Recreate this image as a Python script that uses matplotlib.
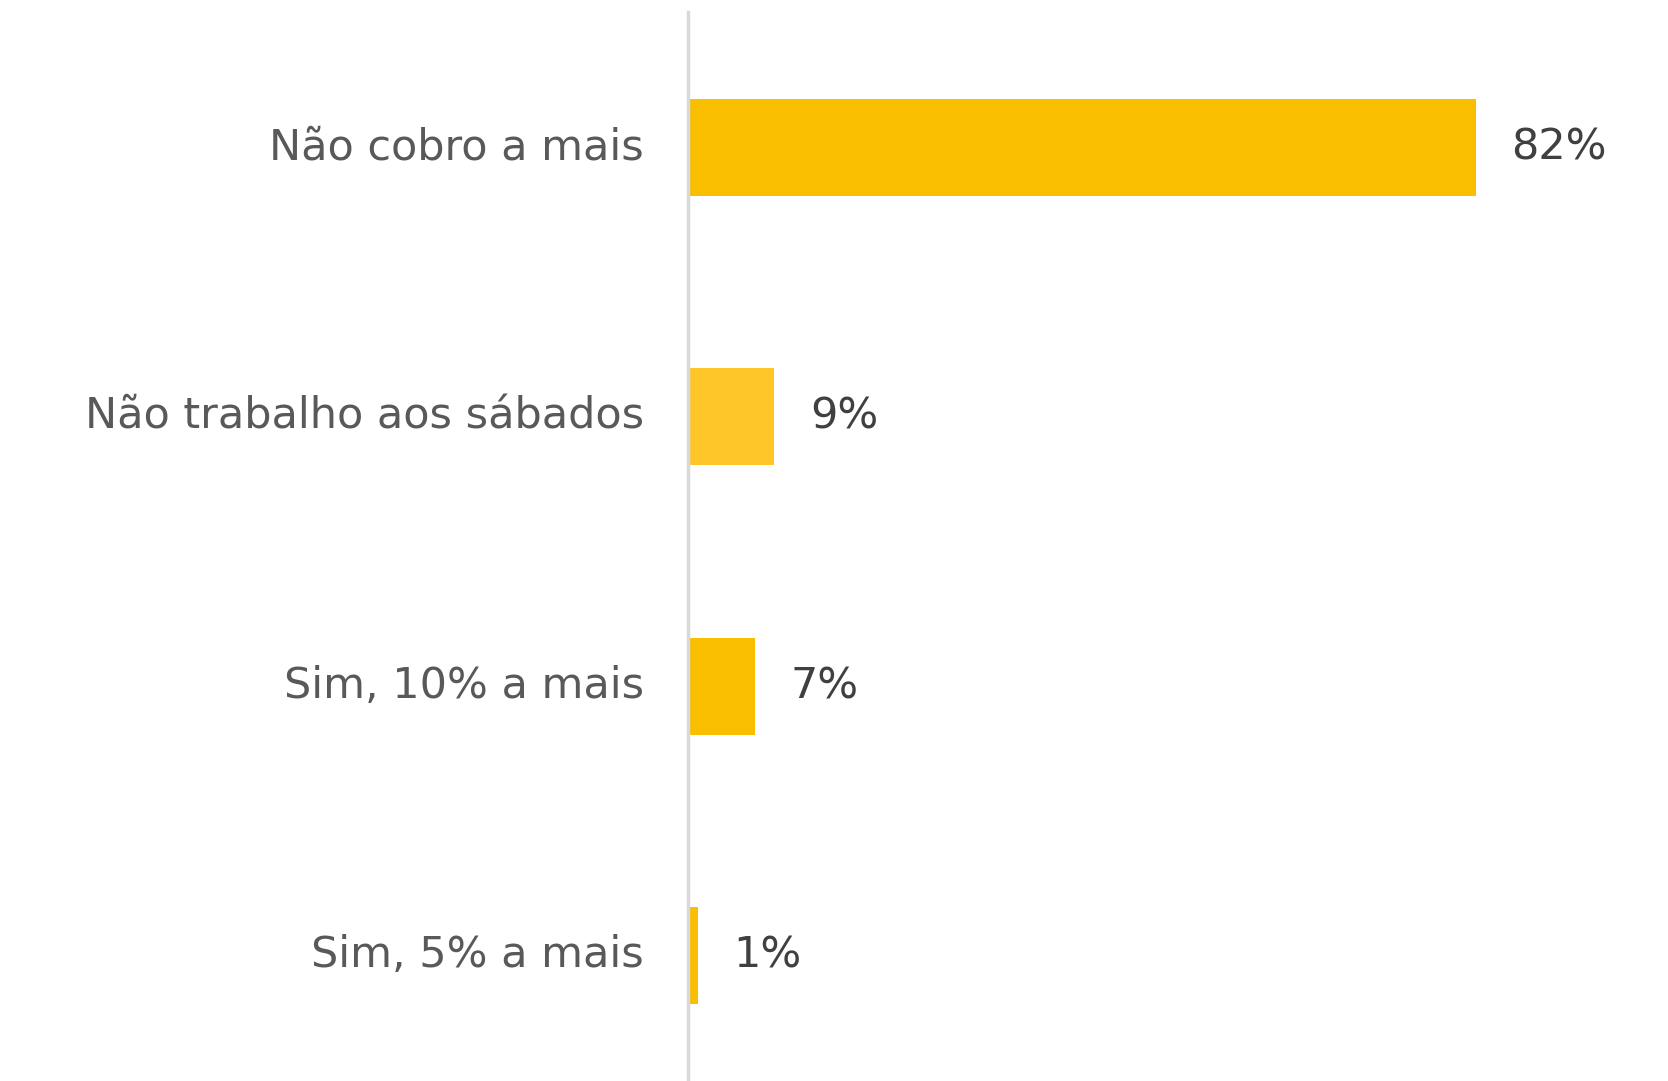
import matplotlib.pyplot as plt

categories = ["Não cobro a mais", "Não trabalho aos sábados", "Sim, 10% a mais", "Sim, 5% a mais"]
values = [82, 9, 7, 1]
value_labels = ["82%", "9%", "7%", "1%"]
bar_colors = ["#F9BE00", "#FFC629", "#F9BE00", "#F9BE00"]

W, H = 1668, 1081
fig = plt.figure(figsize=(W / 100, H / 100), dpi=100)
fig.patch.set_facecolor("white")

# axes placed so the zero line sits where the reference has it
left = 688 / W
top = 12 / H
ax = fig.add_axes([left, 0, 1 - left, 1 - top])

px_per_pct = 9.61
ax.set_xlim(0, (W - 688) / px_per_pct)
ax.set_ylim(3.467, -0.504)

ypos = list(range(len(categories)))
ax.barh(ypos, values, height=0.36, color=bar_colors, zorder=2)

for y, v, lab in zip(ypos, values, value_labels):
    ax.text(v + 3.7, y, lab, va="center", ha="left", fontsize=31, color="#404040")

for y, cat in zip(ypos, categories):
    ax.text(-4.6, y, cat, va="center", ha="right", fontsize=31, color="#595959",
            clip_on=False)

for s in ["top", "right", "bottom"]:
    ax.spines[s].set_visible(False)
ax.spines["left"].set_color("#D9D9D9")
ax.spines["left"].set_linewidth(2.5)
ax.set_xticks([])
ax.set_yticks([])

fig.savefig("out.png", dpi=100, facecolor="white")
